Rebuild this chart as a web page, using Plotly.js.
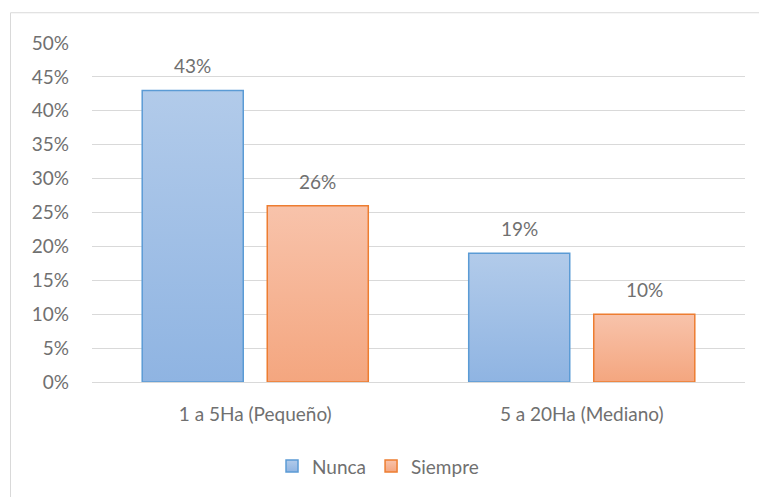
<!DOCTYPE html>
<html>
<head>
<meta charset="utf-8">
<script src="https://cdn.plot.ly/plotly-3.0.1.min.js"></script>
<style>
html,body{margin:0;padding:0;background:#fff;}
#chart{width:759px;height:497px;}
</style>
</head>
<body>
<div id="chart"></div>
<script>
const categories = ["1 a 5Ha (Pequeño)", "5 a 20Ha (Mediano)"];
const seriesNames = ["Nunca", "Siempre"];
const nunca = [0.43, 0.19];
const siempre = [0.26, 0.10];
const yTickVals = [0, 0.05, 0.10, 0.15, 0.20, 0.25, 0.30, 0.35, 0.40, 0.45, 0.50];

const font = "Lato, 'Open Sans', sans-serif";
const txtColor = "#707070";
const fills = ["#a3c0e6", "#f5b597"];
const borders = ["#5b9bd5", "#ed7d31"];
const grads = [["#b2cbea", "#8fb4e2"], ["#f8c3ab", "#f4a67f"]];

const traces = [nunca, siempre].map((vals, i) => ({
  type: "bar",
  name: seriesNames[i],
  x: categories,
  y: vals,
  marker: {color: fills[i], line: {color: borders[i], width: 1.5}},
  hoverinfo: "none"
}));

const annotations = [];
[nunca, siempre].forEach((vals, i) => {
  vals.forEach((v, j) => {
    annotations.push({
      x: categories[j], y: v, xref: "x", yref: "y",
      text: Math.round(v * 100) + "%",
      showarrow: false, yanchor: "bottom",
      xshift: i === 0 ? -62.5 : 62.5, yshift: 11,
      font: {family: font, size: 19, color: txtColor}
    });
  });
});

const layout = {
  width: 759, height: 497,
  margin: {l: 92, r: 14, t: 43, b: 112},
  paper_bgcolor: "#ffffff", plot_bgcolor: "#ffffff",
  font: {family: font, size: 19, color: txtColor},
  barmode: "group", bargap: 0.234, bargroupgap: 0.192,
  showlegend: true,
  legend: {orientation: "h", x: 0.438, xanchor: "center", y: -0.2485, yanchor: "middle",
           font: {family: font, size: 19, color: txtColor}, itemwidth: 30, traceorder: "normal"},
  xaxis: {type: "category", showgrid: false, showline: true, linecolor: "#d9d9d9", linewidth: 1,
          ticks: "", ticklabelstandoff: 15, tickfont: {family: font, size: 19, color: txtColor}},
  yaxis: {range: [0, 0.5], tickvals: yTickVals, tickformat: ".0%", showgrid: true, gridcolor: "#d9d9d9",
          gridwidth: 1, zeroline: false, showline: false, ticks: "", ticklabelstandoff: 22,
          tickfont: {family: font, size: 19, color: txtColor}},
  annotations: annotations,
  shapes: [{type: "rect", xref: "paper", yref: "paper", x0: -0.1248, x1: 1.04, y0: -0.37, y1: 1.0892,
            line: {color: "#d9d9d9", width: 1}, fillcolor: "rgba(0,0,0,0)", layer: "below"}]
};

Plotly.newPlot("chart", traces, layout, {staticPlot: true, displayModeBar: false}).then(gd => {
  const svg = gd.querySelector("svg.main-svg");
  const ns = "http://www.w3.org/2000/svg";
  let defs = svg.querySelector("defs");
  if (!defs) { defs = document.createElementNS(ns, "defs"); svg.insertBefore(defs, svg.firstChild); }
  grads.forEach((g, i) => {
    const lg = document.createElementNS(ns, "linearGradient");
    lg.setAttribute("id", "barGrad" + i);
    lg.setAttribute("x1", "0"); lg.setAttribute("y1", "0");
    lg.setAttribute("x2", "0"); lg.setAttribute("y2", "1");
    [[0, g[0]], [1, g[1]]].forEach(([o, c]) => {
      const s = document.createElementNS(ns, "stop");
      s.setAttribute("offset", o); s.setAttribute("stop-color", c);
      lg.appendChild(s);
    });
    defs.appendChild(lg);
  });
  gd.querySelectorAll(".barlayer .trace.bars").forEach((t, i) => {
    t.querySelectorAll("path").forEach(p => { p.style.fill = "url(#barGrad" + i + ")"; });
  });
  gd.querySelectorAll(".legend .traces").forEach((t, i) => {
    t.querySelectorAll(".legendpoints path").forEach(p => { p.style.fill = "url(#barGrad" + i + ")"; });
  });
});
</script>
</body>
</html>
